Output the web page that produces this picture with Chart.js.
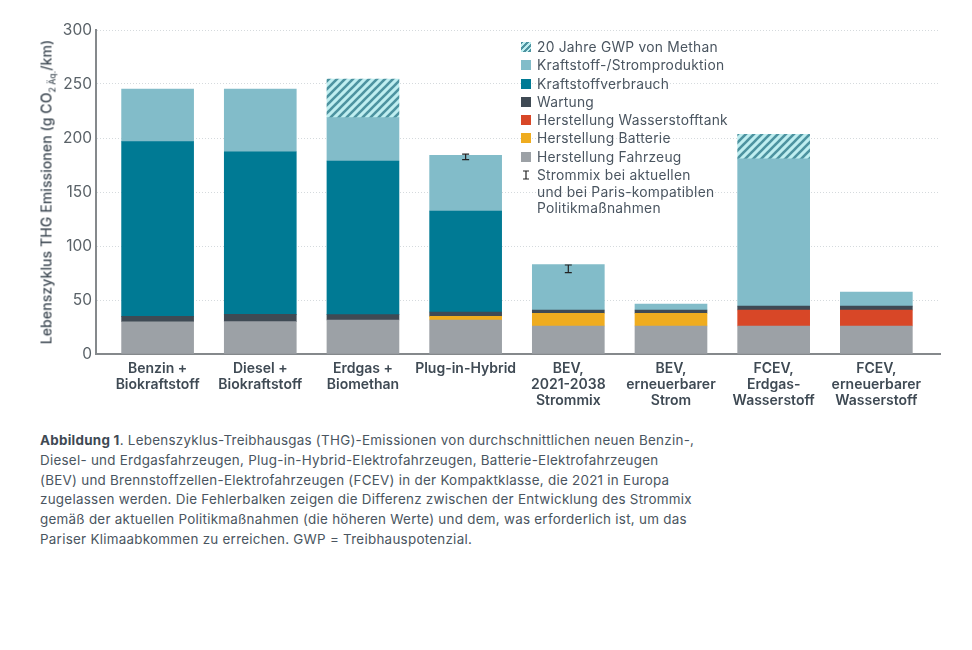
<!DOCTYPE html>
<html lang="de">
<head>
<meta charset="utf-8">
<title>Lebenszyklus THG Emissionen</title>
<script src="https://cdn.jsdelivr.net/npm/chart.js@4"></script>
<style>
  html, body { margin: 0; background: #fff; }
  body { width: 972px; height: 650px; position: relative; overflow: hidden; font-family: Inter, "Open Sans", sans-serif; color: #4a5560; }
  #chartBox { position: absolute; left: 0; top: 0; width: 972px; height: 420px; }
  #yTitle { position: absolute; left: 46px; top: 192px; transform: translate(-50%, -50%) rotate(-90deg); white-space: nowrap; font-size: 14px; font-weight: 500; letter-spacing: .1px; color: #3f4a54; }
  #yTitle sub { font-size: 8.5px; line-height: 0; }
  #legend { position: absolute; left: 521px; top: 39px; font-size: 13.8px; line-height: 16.5px; letter-spacing: .25px; }
  .row { position: relative; height: 18.3px; padding-left: 16px; white-space: nowrap; }
  .sw { position: absolute; left: 0; top: 3px; width: 10px; height: 10px; }
  .hatch { background: repeating-linear-gradient(135deg, #4d93a0 0 2px, #bfeef0 2px 4px); }
  #caption { position: absolute; left: 40px; top: 431px; font-size: 13.4px; line-height: 19.75px; letter-spacing: .27px; white-space: nowrap; }
  #caption b { color: #3f4a54; }
</style>
</head>
<body>
<div id="chartBox"><canvas id="chart"></canvas></div>
<div id="yTitle">Lebenszyklus THG Emissionen (g CO<sub>2 Äq.</sub>/km)</div>
<div id="legend"></div>
<div id="caption">
  <b>Abbildung 1</b>. Lebenszyklus-Treibhausgas (THG)-Emissionen von durchschnittlichen neuen Benzin-,<br>
  Diesel- und Erdgasfahrzeugen, Plug-in-Hybrid-Elektrofahrzeugen, Batterie-Elektrofahrzeugen<br>
  (BEV) und Brennstoffzellen-Elektrofahrzeugen (FCEV) in der Kompaktklasse, die 2021 in Europa<br>
  zugelassen werden. Die Fehlerbalken zeigen die Differenz zwischen der Entwicklung des Strommix<br>
  gemäß der aktuellen Politikmaßnahmen (die höheren Werte) und dem, was erforderlich ist, um das<br>
  Pariser Klimaabkommen zu erreichen. GWP = Treibhauspotenzial.
</div>
<script>
// Data
const categories = [
  ['Benzin +', 'Biokraftstoff'],
  ['Diesel +', 'Biokraftstoff'],
  ['Erdgas +', 'Biomethan'],
  ['Plug-in-Hybrid'],
  ['BEV,', '2021-2038', 'Strommix'],
  ['BEV,', 'erneuerbarer', 'Strom'],
  ['FCEV,', 'Erdgas-', 'Wasserstoff'],
  ['FCEV,', 'erneuerbarer', 'Wasserstoff']
];
const yTicks = [0, 50, 100, 150, 200, 250, 300];

const fahrzeug   = [29.9, 30, 31.5, 31.5, 25.9, 25.9, 25.9, 25.9];
const batterie   = [null, null, null, 3.4, 11.8, 11.8, null, null];
const tank       = [null, null, null, null, null, null, 14.8, 14.8];
const wartung    = [5, 6.7, 4.9, 4, 3, 3, 3.7, 3.7];
const verbrauch  = [161.7, 150.6, 142.3, 93.5, null, null, null, null];
const produktion = [48.8, 58.1, 40.1, 51.6, 42, 5.6, 136.2, 13];
const methan     = [null, null, 35.8, null, null, null, 22.8, null];

const errLow  = [null, null, null, 180, 75.3, null, null, null];
const errHigh = [null, null, null, 185, 82.4, null, null, null];

const colors = {
  fahrzeug: '#9ca1a6', batterie: '#efac1f', tank: '#d84727', wartung: '#3f4a54',
  verbrauch: '#007a94', produktion: '#82bcc9'
};

/* ---------- Hatch for the methane part ---------- */
function hatchPattern() {
  const c = document.createElement('canvas');
  c.width = c.height = 8;
  const g = c.getContext('2d');
  g.fillStyle = '#bfeef0';
  g.fillRect(0, 0, 8, 8);
  g.strokeStyle = '#4d93a0';
  g.lineWidth = 2.6;
  [[-2, 2, 2, -2], [0, 8, 8, 0], [6, 10, 10, 6]].forEach(([a, b, d, e]) => {
    g.beginPath(); g.moveTo(a, b); g.lineTo(d, e); g.stroke();
  });
  return g.createPattern(c, 'repeat');
}

/* ---------- Error bars ---------- */
const errorBars = {
  id: 'errorBars',
  afterDatasetsDraw(chart) {
    const { ctx, scales: { x, y } } = chart;
    ctx.save();
    ctx.strokeStyle = '#222';
    ctx.lineWidth = 1.2;
    errLow.forEach((low, i) => {
      if (low === null) return;
      const px = x.getPixelForValue(i);
      const y0 = y.getPixelForValue(low);
      const y1 = y.getPixelForValue(errHigh[i]);
      ctx.beginPath();
      ctx.moveTo(px, y0); ctx.lineTo(px, y1);
      ctx.moveTo(px - 3.5, y0); ctx.lineTo(px + 3.5, y0);
      ctx.moveTo(px - 3.5, y1); ctx.lineTo(px + 3.5, y1);
      ctx.stroke();
    });
    ctx.restore();
  }
};

const toPoints = (values) => values.map((v, i) => ({ x: i, y: v }));
const series = [
  ['Herstellung Fahrzeug', fahrzeug, colors.fahrzeug],
  ['Herstellung Batterie', batterie, colors.batterie],
  ['Herstellung Wasserstofftank', tank, colors.tank],
  ['Wartung', wartung, colors.wartung],
  ['Kraftstoffverbrauch', verbrauch, colors.verbrauch],
  ['Kraftstoff-/Stromproduktion', produktion, colors.produktion],
  ['20 Jahre GWP von Methan', methan, hatchPattern()]
];

new Chart(document.getElementById('chart'), {
  type: 'bar',
  data: {
    datasets: series.map(([label, values, color]) => ({
      label, data: toPoints(values), backgroundColor: color, barThickness: 72
    }))
  },
  options: {
    responsive: true,
    maintainAspectRatio: false,
    animation: false,
    layout: { padding: { top: 30, right: 32 } },
    plugins: { legend: { display: false }, tooltip: { enabled: false } },
    scales: {
      x: {
        type: 'linear',
        stacked: true,
        offset: false,
        min: -0.6,
        max: 7.62,
        grid: { display: false, drawTicks: false },
        border: { color: '#85898c', width: 2 },
        afterBuildTicks: (s) => { s.ticks = categories.map((_, i) => ({ value: i })); },
        afterFit: (s) => { s.height = 66; },
        ticks: {
          autoSkip: false, maxRotation: 0, padding: 7,
          color: '#3f4a54',
          font: { family: 'Inter', size: 14, weight: '600', lineHeight: 1.15 },
          callback: (v) => categories[v]
        }
      },
      y: {
        stacked: true,
        min: 0,
        max: 300,
        afterBuildTicks: (s) => { s.ticks = yTicks.map((value) => ({ value })); },
        afterFit: (s) => { s.width = 96; },
        grid: { color: '#d5dadd', drawTicks: false, tickBorderDash: [1, 2] },
        border: { color: '#85898c', width: 2, dash: [1, 2] },
        ticks: { padding: 4, color: '#5a6268', font: { family: 'Inter', size: 15.5 } }
      }
    }
  },
  plugins: [errorBars]
});

/* ---------- Legend ---------- */
const legendRows = series.slice().reverse().map(([label, , color], i) =>
  `<div class="row"><span class="sw${i === 0 ? ' hatch' : ''}" style="${i === 0 ? '' : 'background:' + color}"></span>${label}</div>`
).join('');
document.getElementById('legend').innerHTML = legendRows +
  `<div class="row"><svg class="sw" viewBox="0 0 10 10"><path d="M2 1h6M5 1v8M2 9h6" stroke="#222" stroke-width="1.2" fill="none"/></svg>Strommix bei aktuellen<br>und bei Paris-kompatiblen<br>Politikmaßnahmen</div>`;
</script>
</body>
</html>
